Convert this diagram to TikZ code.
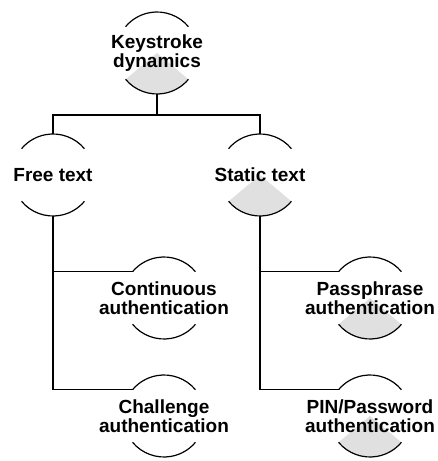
\documentclass[tikz,border=0pt]{standalone}
\usepackage{fontspec}
\setmainfont{Liberation Sans}
\usetikzlibrary{backgrounds}
\tikzset{
  unit/.style={circle, minimum size=82pt, inner sep=0pt, outer sep=0pt},
  caption/.style={align=center, font=\fontsize{19}{19}\selectfont\bfseries},
  rim/.style={line width=1.2pt},
  link/.style={line width=1.6pt},
  wedge/.style={fill=black!12},
}
\begin{document}
\begin{tikzpicture}[x=1pt, y=1pt]
    \useasboundingbox (0,0) rectangle (438,461);
    \node[unit, label={[caption]center:Keystroke\\dynamics}] (ks) at (157,408) {};
    \node[unit, label={[caption]center:Free text}] (free) at (53,286) {};
    \node[unit, label={[caption]center:Static text}] (static) at (260,286) {};
    \node[unit, label={[caption]center:Continuous\\authentication}] (cont) at (164,163) {};
    \node[unit, label={[caption]center:Passphrase\\authentication}] (pass) at (370,163) {};
    \node[unit, label={[caption]center:Challenge\\authentication}] (chal) at (164,45) {};
    \node[unit, label={[caption]center:PIN/Password\\authentication}] (pin) at (370,45) {};
    \coordinate (fork) at (157,346);
    % shaded lower sectors
    \begin{scope}[on background layer]
    \foreach \n in {ks,static,pass,pin}
        \fill[wedge] (\n.center) -- (\n.220) arc[start angle=220, end angle=320, radius=41pt] -- cycle;
    \end{scope}
    % upper and lower rims
    \foreach \n in {ks,free,static,cont,pass,chal,pin} {
        \draw[rim] (\n.40) arc[start angle=40, end angle=140, radius=41pt];
        \draw[rim] (\n.220) arc[start angle=220, end angle=320, radius=41pt];
    }
    % tree links
    \draw[link] (ks.south) -- (fork);
    \draw[link] (free.north) |- (fork) -| (static.north);
    \draw[link] (free.south) |- (cont.140);
    \draw[link] (free.south) |- (chal.140);
    \draw[link] (static.south) |- (pass.140);
    \draw[link] (static.south) |- (pin.140);
\end{tikzpicture}
\end{document}
